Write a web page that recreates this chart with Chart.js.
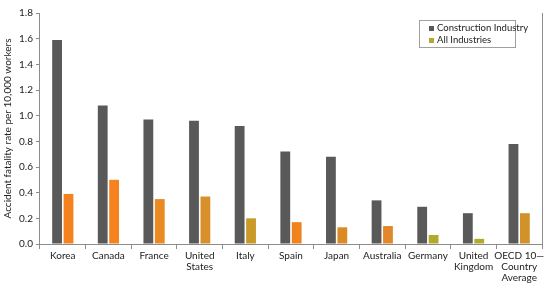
<!DOCTYPE html>
<html><head><meta charset="utf-8">
<script src="https://cdn.jsdelivr.net/npm/chart.js@4/dist/chart.umd.min.js"></script>
<style>
html,body{margin:0;padding:0;background:#fff;}
#wrap{position:relative;width:550px;height:284px;}
#legend{position:absolute;left:419px;top:20px;width:97px;height:28px;border:1px solid #a0a0a0;background:#fff;font:9.5px Lato,sans-serif;color:#222;box-sizing:border-box;padding:1px 0 0 9px;line-height:12px;white-space:nowrap;}
#legend span.b{display:inline-block;width:5px;height:5px;margin-right:3px;vertical-align:0px;}
</style></head>
<body><div id="wrap"><canvas id="c" width="550" height="284"></canvas>
<div id="legend"><div><span class="b" style="background:#595959"></span>Construction Industry</div><div><span class="b" style="background:#b2aa2c"></span>All Industries</div></div></div>
<script>
const categories = ["Korea","Canada","France",["United","States"],"Italy","Spain","Japan","Australia","Germany",["United","Kingdom"],["OECD 10—","Country","Average"]];
const construction = [1.59,1.08,0.97,0.96,0.92,0.72,0.68,0.34,0.29,0.24,0.78];
const allIndustries = [0.39,0.50,0.35,0.37,0.20,0.17,0.13,0.14,0.07,0.04,0.24];
const seriesNames = ["Construction Industry","All Industries"];
const allColors = ["#f5821f","#f5821f","#ea8a22","#d8902a","#c99a2a","#f0831f","#dc8a26","#e2882a","#b2aa2c","#b2aa2c","#d2922a"];

new Chart(document.getElementById('c'), {
  type: 'bar',
  data: { labels: categories, datasets: [
    { label: seriesNames[0], data: construction, backgroundColor: '#595959', categoryPercentage: 0.5, barPercentage: 0.86 },
    { label: seriesNames[1], data: allIndustries, backgroundColor: allColors, categoryPercentage: 0.5, barPercentage: 0.86 }
  ]},
  options: {
    responsive: false, animation: false,
    layout: { padding: { top: 13, right: 0, left: 0, bottom: 0 } },
    plugins: { legend: { display: false }, tooltip: { enabled: false } },
    scales: {
      x: {
        grid: { display: true, drawOnChartArea: false, offset: true, tickLength: 5, color: '#8c8c8c' },
        border: { color: '#8c8c8c' },
        ticks: { color: '#222', font: { family: 'Lato', size: 10, lineHeight: 1.1 }, maxRotation: 0, autoSkip: false, padding: 1 }
      },
      y: {
        min: 0, max: 1.8,
        grid: { display: true, drawOnChartArea: false, tickLength: 4, color: '#8c8c8c' },
        border: { color: '#8c8c8c' },
        ticks: { stepSize: 0.2, color: '#222', font: { family: 'Lato', size: 10 }, padding: 3, callback: v => v.toFixed(1) },
        title: { display: true, text: 'Accident fatality rate per 10,000 workers', color: '#222', font: { family: 'Lato', size: 10 }, padding: 2 }
      },
      y2: {
        position: 'right', min: 0, max: 1.8,
        grid: { display: false }, ticks: { display: false },
        border: { display: true, color: '#8c8c8c' }
      }
    }
  }
});
</script></body></html>
